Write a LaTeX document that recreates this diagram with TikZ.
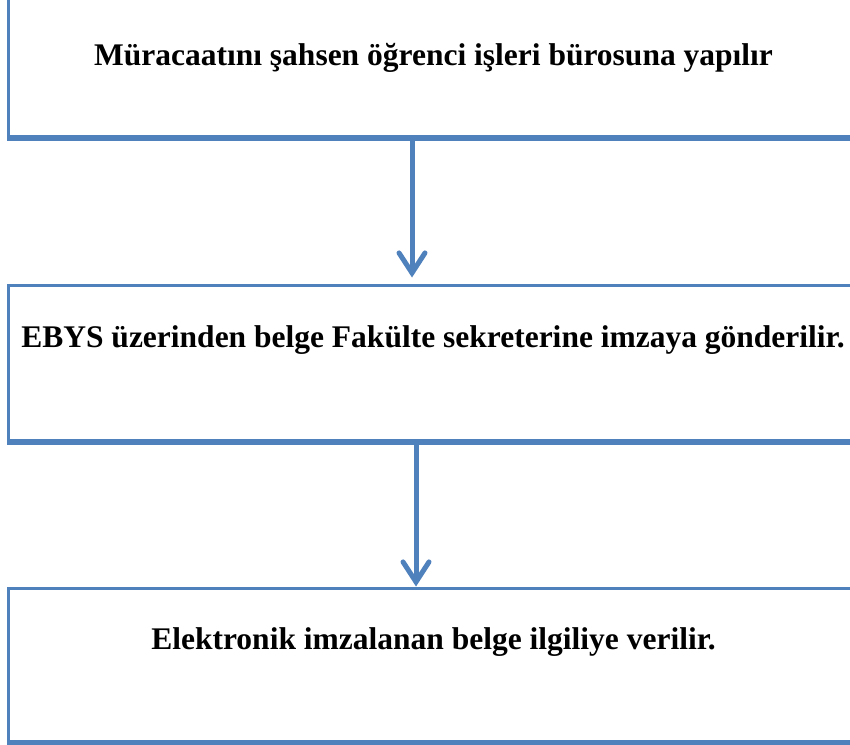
\documentclass[tikz,border=0pt]{standalone}
\usepackage{fontspec}
\setmainfont{Liberation Serif}
\usetikzlibrary{positioning}
\usetikzlibrary{arrows.meta}
\definecolor{kutumavi}{HTML}{4F81BD}

\begin{document}
\begin{tikzpicture}[x=1pt, y=-1pt,
		kutu/.style={draw=kutumavi, line width=3pt, rectangle, inner sep=0pt},
		yazi/.style={font=\bfseries\fontsize{31.5}{36}\selectfont, inner sep=0pt, anchor=base},
		ok/.style={draw=kutumavi, line width=5pt,
			-{Straight Barb[length=20pt, width=26pt, line cap=round]}}]
	\useasboundingbox (0,0) rectangle (850,744);
	\fill[white] (0,0) rectangle (850,744);
	% kutular
	\node[kutu, minimum width=861.5pt, minimum height=146.5pt] (basvuru) at (439.25, 63.25) {};
	\node[kutu, minimum width=861.5pt, minimum height=155pt] (ebys) at (439.25,362.5) {};
	\node[kutu, minimum width=861.5pt, minimum height=153pt] (imza) at (439.25,664.5) {};
	\foreach \k in {basvuru, ebys, imza}
		\draw[kutumavi, line width=3pt] ([yshift=-1.5pt]\k.south west) -- ([yshift=-1.5pt]\k.south east);
	% yazilar
	\node[yazi] (basvuruyazi) at (433.5, 65) {Müracaatını şahsen öğrenci işleri bürosuna yapılır};
	\node[yazi] (ebysyazi) at (433, 347) {EBYS üzerinden belge Fakülte sekreterine imzaya gönderilir.};
	\node[yazi] (imzayazi) at (433.5, 649) {Elektronik imzalanan belge ilgiliye verilir.};
	% oklar
	\draw[ok, shorten >=6pt] ([xshift=-27.25pt]basvuru.south) -- ([xshift=-27.25pt]ebys.north);
	\draw[ok] ([xshift=-23.25pt]ebys.south) -- ([xshift=-23.25pt]imza.north);
\end{tikzpicture}
\end{document}
